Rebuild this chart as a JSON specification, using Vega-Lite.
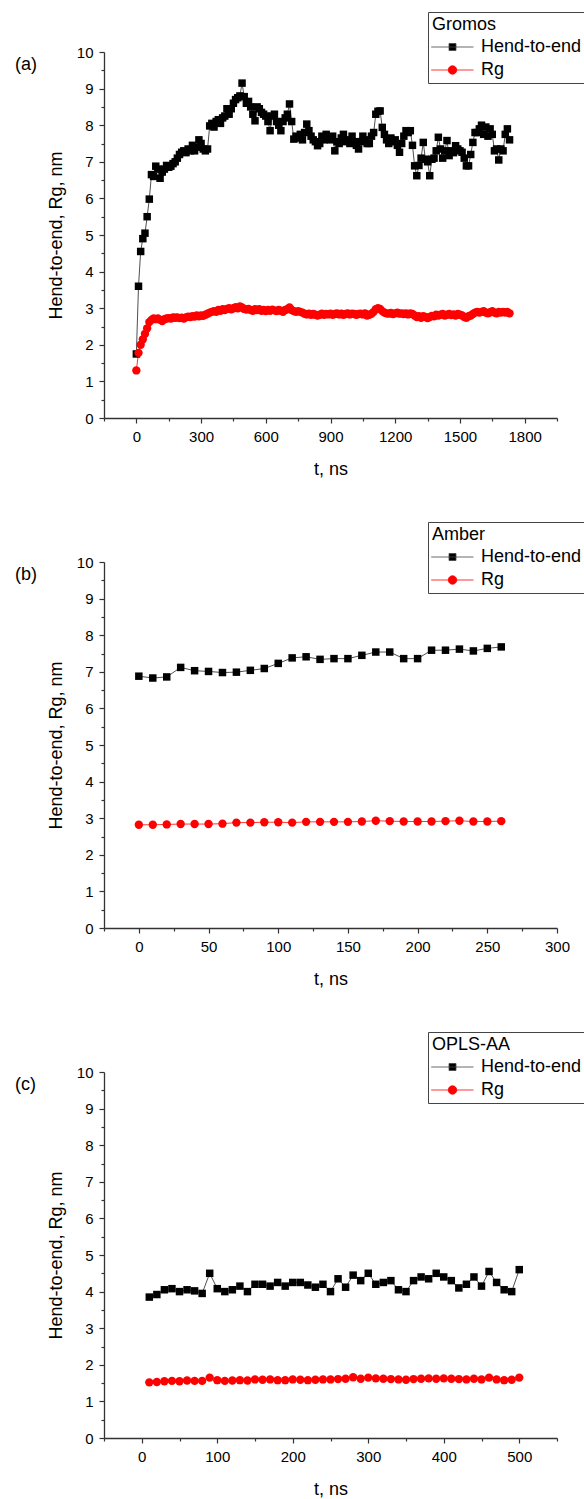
{
"$schema":"https://vega.github.io/schema/vega-lite/v6.json",
"background":"white",
"padding":{"left":15,"top":11,"right":0,"bottom":0},
"spacing":43,
"config":{"view":{"stroke":null},"font":"Liberation Sans",
"axis":{"grid":false,"domainColor":"#333333","domainWidth":1.3,"tickColor":"#333333","tickWidth":1.2,"labelFont":"Liberation Sans","labelFontSize":15,"labelColor":"#000000","labelPadding":6,"labelOverlap":false,"labelBound":false,"labelFlush":false,"titleFont":"Liberation Sans","titleFontSize":18,"titleFontWeight":"normal","titleColor":"#000000"},
"axisY":{"titlePadding":11},"axisX":{"titlePadding":16},
"legend":{"orient":"none","legendX":324,"legendY":-40,"strokeColor":"#444444","fillColor":"#ffffff","padding":4,"titleFontSize":18,"titleFontWeight":"normal","titleColor":"#000000","titleFont":"Liberation Sans","titlePadding":4,"labelFontSize":18,"labelFont":"Liberation Sans","labelColor":"#000000","labelOffset":31,"symbolSize":100,"rowPadding":5,"symbolStrokeWidth":0.8,"symbolFillColor":"#000000","symbolStrokeColor":"#444444","symbolOpacity":1},
"title":{"font":"Liberation Sans","fontSize":18,"fontWeight":"normal","color":"#000000"}},
"datasets":{
"gromos":[
{"t":0,"Hend-to-end":1.75,"Rg":1.3},{"t":10,"Hend-to-end":3.6,"Rg":1.78},{"t":20,"Hend-to-end":4.55,"Rg":2.0},{"t":30,"Hend-to-end":4.9,"Rg":2.15},{"t":40,"Hend-to-end":5.05,"Rg":2.3},{"t":50,"Hend-to-end":5.5,"Rg":2.45},{"t":60,"Hend-to-end":5.98,"Rg":2.62},{"t":70,"Hend-to-end":6.65,"Rg":2.68},{"t":80,"Hend-to-end":6.6,"Rg":2.72},{"t":90,"Hend-to-end":6.88,"Rg":2.7},
{"t":100,"Hend-to-end":6.8,"Rg":2.72},{"t":110,"Hend-to-end":6.55,"Rg":2.68},{"t":120,"Hend-to-end":6.72,"Rg":2.65},{"t":130,"Hend-to-end":6.8,"Rg":2.7},{"t":140,"Hend-to-end":6.9,"Rg":2.72},{"t":150,"Hend-to-end":6.85,"Rg":2.73},{"t":160,"Hend-to-end":6.88,"Rg":2.72},{"t":170,"Hend-to-end":6.95,"Rg":2.75},{"t":180,"Hend-to-end":7.0,"Rg":2.74},{"t":190,"Hend-to-end":7.1,"Rg":2.75},
{"t":200,"Hend-to-end":7.2,"Rg":2.73},{"t":210,"Hend-to-end":7.26,"Rg":2.74},{"t":220,"Hend-to-end":7.3,"Rg":2.72},{"t":230,"Hend-to-end":7.25,"Rg":2.75},{"t":240,"Hend-to-end":7.35,"Rg":2.77},{"t":250,"Hend-to-end":7.3,"Rg":2.76},{"t":260,"Hend-to-end":7.45,"Rg":2.78},{"t":270,"Hend-to-end":7.3,"Rg":2.77},{"t":280,"Hend-to-end":7.4,"Rg":2.8},{"t":290,"Hend-to-end":7.6,"Rg":2.78},
{"t":300,"Hend-to-end":7.5,"Rg":2.8},{"t":310,"Hend-to-end":7.35,"Rg":2.79},{"t":320,"Hend-to-end":7.3,"Rg":2.82},{"t":330,"Hend-to-end":7.35,"Rg":2.85},{"t":340,"Hend-to-end":7.98,"Rg":2.88},{"t":350,"Hend-to-end":8.05,"Rg":2.9},{"t":360,"Hend-to-end":7.95,"Rg":2.92},{"t":370,"Hend-to-end":8.1,"Rg":2.9},{"t":380,"Hend-to-end":8.15,"Rg":2.95},{"t":390,"Hend-to-end":8.05,"Rg":2.93},
{"t":400,"Hend-to-end":8.2,"Rg":2.97},{"t":410,"Hend-to-end":8.25,"Rg":2.95},{"t":420,"Hend-to-end":8.45,"Rg":2.98},{"t":430,"Hend-to-end":8.3,"Rg":3.0},{"t":440,"Hend-to-end":8.45,"Rg":2.97},{"t":450,"Hend-to-end":8.6,"Rg":3.0},{"t":460,"Hend-to-end":8.7,"Rg":3.03},{"t":470,"Hend-to-end":8.75,"Rg":3.0},{"t":480,"Hend-to-end":8.8,"Rg":3.05},{"t":490,"Hend-to-end":9.15,"Rg":3.02},
{"t":500,"Hend-to-end":8.78,"Rg":2.98},{"t":510,"Hend-to-end":8.6,"Rg":2.96},{"t":520,"Hend-to-end":8.65,"Rg":2.98},{"t":530,"Hend-to-end":8.5,"Rg":2.95},{"t":540,"Hend-to-end":8.3,"Rg":2.93},{"t":550,"Hend-to-end":8.12,"Rg":2.97},{"t":560,"Hend-to-end":8.5,"Rg":2.95},{"t":570,"Hend-to-end":8.45,"Rg":2.97},{"t":580,"Hend-to-end":8.35,"Rg":2.93},{"t":590,"Hend-to-end":8.3,"Rg":2.95},
{"t":600,"Hend-to-end":8.25,"Rg":2.92},{"t":610,"Hend-to-end":8.1,"Rg":2.95},{"t":620,"Hend-to-end":7.85,"Rg":2.93},{"t":630,"Hend-to-end":8.25,"Rg":2.96},{"t":640,"Hend-to-end":8.3,"Rg":2.94},{"t":650,"Hend-to-end":8.1,"Rg":2.92},{"t":660,"Hend-to-end":8.0,"Rg":2.95},{"t":670,"Hend-to-end":7.85,"Rg":2.93},{"t":680,"Hend-to-end":8.1,"Rg":2.9},{"t":690,"Hend-to-end":8.2,"Rg":2.95},
{"t":700,"Hend-to-end":8.3,"Rg":2.97},{"t":710,"Hend-to-end":8.58,"Rg":3.02},{"t":720,"Hend-to-end":8.1,"Rg":2.95},{"t":730,"Hend-to-end":7.62,"Rg":2.92},{"t":740,"Hend-to-end":7.7,"Rg":2.9},{"t":750,"Hend-to-end":7.65,"Rg":2.92},{"t":760,"Hend-to-end":7.75,"Rg":2.9},{"t":770,"Hend-to-end":7.6,"Rg":2.88},{"t":780,"Hend-to-end":7.8,"Rg":2.85},{"t":790,"Hend-to-end":8.03,"Rg":2.83},
{"t":800,"Hend-to-end":7.85,"Rg":2.85},{"t":810,"Hend-to-end":7.7,"Rg":2.82},{"t":820,"Hend-to-end":7.6,"Rg":2.84},{"t":830,"Hend-to-end":7.55,"Rg":2.82},{"t":840,"Hend-to-end":7.44,"Rg":2.8},{"t":850,"Hend-to-end":7.5,"Rg":2.82},{"t":860,"Hend-to-end":7.7,"Rg":2.85},{"t":870,"Hend-to-end":7.6,"Rg":2.82},{"t":880,"Hend-to-end":7.75,"Rg":2.84},{"t":890,"Hend-to-end":7.65,"Rg":2.83},
{"t":900,"Hend-to-end":7.6,"Rg":2.85},{"t":910,"Hend-to-end":7.7,"Rg":2.82},{"t":920,"Hend-to-end":7.3,"Rg":2.84},{"t":930,"Hend-to-end":7.55,"Rg":2.86},{"t":940,"Hend-to-end":7.5,"Rg":2.83},{"t":950,"Hend-to-end":7.65,"Rg":2.85},{"t":960,"Hend-to-end":7.75,"Rg":2.82},{"t":970,"Hend-to-end":7.55,"Rg":2.84},{"t":980,"Hend-to-end":7.6,"Rg":2.86},{"t":990,"Hend-to-end":7.5,"Rg":2.83},
{"t":1000,"Hend-to-end":7.7,"Rg":2.85},{"t":1010,"Hend-to-end":7.55,"Rg":2.84},{"t":1020,"Hend-to-end":7.45,"Rg":2.82},{"t":1030,"Hend-to-end":7.35,"Rg":2.84},{"t":1040,"Hend-to-end":7.55,"Rg":2.85},{"t":1050,"Hend-to-end":7.7,"Rg":2.83},{"t":1060,"Hend-to-end":7.6,"Rg":2.86},{"t":1070,"Hend-to-end":7.5,"Rg":2.8},{"t":1080,"Hend-to-end":7.5,"Rg":2.82},{"t":1090,"Hend-to-end":7.7,"Rg":2.85},
{"t":1100,"Hend-to-end":7.8,"Rg":2.9},{"t":1110,"Hend-to-end":8.3,"Rg":2.97},{"t":1120,"Hend-to-end":8.38,"Rg":3.0},{"t":1130,"Hend-to-end":8.39,"Rg":2.98},{"t":1140,"Hend-to-end":7.94,"Rg":2.92},{"t":1150,"Hend-to-end":7.75,"Rg":2.88},{"t":1160,"Hend-to-end":7.6,"Rg":2.86},{"t":1170,"Hend-to-end":7.5,"Rg":2.85},{"t":1180,"Hend-to-end":7.65,"Rg":2.87},{"t":1190,"Hend-to-end":7.55,"Rg":2.84},
{"t":1200,"Hend-to-end":7.6,"Rg":2.86},{"t":1210,"Hend-to-end":7.45,"Rg":2.88},{"t":1220,"Hend-to-end":7.26,"Rg":2.85},{"t":1230,"Hend-to-end":7.5,"Rg":2.86},{"t":1240,"Hend-to-end":7.7,"Rg":2.84},{"t":1250,"Hend-to-end":7.85,"Rg":2.86},{"t":1260,"Hend-to-end":7.8,"Rg":2.83},{"t":1270,"Hend-to-end":7.85,"Rg":2.86},{"t":1280,"Hend-to-end":7.45,"Rg":2.84},{"t":1290,"Hend-to-end":6.89,"Rg":2.8},
{"t":1300,"Hend-to-end":6.62,"Rg":2.76},{"t":1310,"Hend-to-end":6.9,"Rg":2.78},{"t":1320,"Hend-to-end":7.1,"Rg":2.74},{"t":1330,"Hend-to-end":7.53,"Rg":2.78},{"t":1340,"Hend-to-end":7.07,"Rg":2.76},{"t":1350,"Hend-to-end":7.0,"Rg":2.73},{"t":1360,"Hend-to-end":6.62,"Rg":2.76},{"t":1370,"Hend-to-end":7.07,"Rg":2.79},{"t":1380,"Hend-to-end":7.1,"Rg":2.78},{"t":1390,"Hend-to-end":7.3,"Rg":2.82},
{"t":1400,"Hend-to-end":7.67,"Rg":2.8},{"t":1410,"Hend-to-end":7.35,"Rg":2.82},{"t":1420,"Hend-to-end":7.1,"Rg":2.84},{"t":1430,"Hend-to-end":7.3,"Rg":2.8},{"t":1440,"Hend-to-end":7.58,"Rg":2.82},{"t":1450,"Hend-to-end":7.17,"Rg":2.84},{"t":1460,"Hend-to-end":7.3,"Rg":2.81},{"t":1470,"Hend-to-end":7.25,"Rg":2.83},{"t":1480,"Hend-to-end":7.44,"Rg":2.8},{"t":1490,"Hend-to-end":7.35,"Rg":2.84},
{"t":1500,"Hend-to-end":7.3,"Rg":2.82},{"t":1510,"Hend-to-end":7.26,"Rg":2.8},{"t":1520,"Hend-to-end":7.1,"Rg":2.76},{"t":1530,"Hend-to-end":6.89,"Rg":2.74},{"t":1540,"Hend-to-end":6.89,"Rg":2.78},{"t":1550,"Hend-to-end":7.2,"Rg":2.8},{"t":1560,"Hend-to-end":7.53,"Rg":2.84},{"t":1570,"Hend-to-end":7.8,"Rg":2.88},{"t":1580,"Hend-to-end":7.8,"Rg":2.9},{"t":1590,"Hend-to-end":7.9,"Rg":2.88},
{"t":1600,"Hend-to-end":8.0,"Rg":2.9},{"t":1610,"Hend-to-end":7.75,"Rg":2.92},{"t":1620,"Hend-to-end":7.95,"Rg":2.88},{"t":1630,"Hend-to-end":7.7,"Rg":2.86},{"t":1640,"Hend-to-end":7.9,"Rg":2.89},{"t":1650,"Hend-to-end":7.75,"Rg":2.92},{"t":1660,"Hend-to-end":7.3,"Rg":2.88},{"t":1670,"Hend-to-end":7.35,"Rg":2.86},{"t":1680,"Hend-to-end":7.05,"Rg":2.9},{"t":1690,"Hend-to-end":7.35,"Rg":2.88},
{"t":1700,"Hend-to-end":7.3,"Rg":2.9},{"t":1710,"Hend-to-end":7.75,"Rg":2.88},{"t":1720,"Hend-to-end":7.9,"Rg":2.9},{"t":1730,"Hend-to-end":7.6,"Rg":2.86}
],
"amber":[
{"t":0,"Hend-to-end":6.88,"Rg":2.82},{"t":10,"Hend-to-end":6.83,"Rg":2.82},{"t":20,"Hend-to-end":6.86,"Rg":2.83},{"t":30,"Hend-to-end":7.12,"Rg":2.84},{"t":40,"Hend-to-end":7.03,"Rg":2.84},{"t":50,"Hend-to-end":7.01,"Rg":2.84},{"t":60,"Hend-to-end":6.98,"Rg":2.85},{"t":70,"Hend-to-end":6.99,"Rg":2.88},{"t":80,"Hend-to-end":7.04,"Rg":2.88},{"t":90,"Hend-to-end":7.09,"Rg":2.89},
{"t":100,"Hend-to-end":7.23,"Rg":2.89},{"t":110,"Hend-to-end":7.38,"Rg":2.88},{"t":120,"Hend-to-end":7.41,"Rg":2.9},{"t":130,"Hend-to-end":7.34,"Rg":2.9},{"t":140,"Hend-to-end":7.36,"Rg":2.9},{"t":150,"Hend-to-end":7.36,"Rg":2.9},{"t":160,"Hend-to-end":7.45,"Rg":2.91},{"t":170,"Hend-to-end":7.54,"Rg":2.93},{"t":180,"Hend-to-end":7.54,"Rg":2.92},{"t":190,"Hend-to-end":7.36,"Rg":2.91},
{"t":200,"Hend-to-end":7.36,"Rg":2.91},{"t":210,"Hend-to-end":7.59,"Rg":2.91},{"t":220,"Hend-to-end":7.59,"Rg":2.92},{"t":230,"Hend-to-end":7.62,"Rg":2.93},{"t":240,"Hend-to-end":7.57,"Rg":2.91},{"t":250,"Hend-to-end":7.64,"Rg":2.91},{"t":260,"Hend-to-end":7.68,"Rg":2.92}
],
"opls":[
{"t":10,"Hend-to-end":3.85,"Rg":1.52},{"t":20,"Hend-to-end":3.92,"Rg":1.53},{"t":30,"Hend-to-end":4.05,"Rg":1.55},{"t":40,"Hend-to-end":4.08,"Rg":1.56},{"t":50,"Hend-to-end":4.0,"Rg":1.55},{"t":60,"Hend-to-end":4.05,"Rg":1.57},{"t":70,"Hend-to-end":4.02,"Rg":1.56},{"t":80,"Hend-to-end":3.95,"Rg":1.56},{"t":90,"Hend-to-end":4.5,"Rg":1.65},{"t":100,"Hend-to-end":4.08,"Rg":1.58},
{"t":110,"Hend-to-end":4.0,"Rg":1.56},{"t":120,"Hend-to-end":4.05,"Rg":1.57},{"t":130,"Hend-to-end":4.15,"Rg":1.58},{"t":140,"Hend-to-end":4.0,"Rg":1.57},{"t":150,"Hend-to-end":4.2,"Rg":1.6},{"t":160,"Hend-to-end":4.2,"Rg":1.59},{"t":170,"Hend-to-end":4.15,"Rg":1.6},{"t":180,"Hend-to-end":4.25,"Rg":1.58},{"t":190,"Hend-to-end":4.15,"Rg":1.58},{"t":200,"Hend-to-end":4.25,"Rg":1.6},
{"t":210,"Hend-to-end":4.25,"Rg":1.59},{"t":220,"Hend-to-end":4.18,"Rg":1.58},{"t":230,"Hend-to-end":4.12,"Rg":1.59},{"t":240,"Hend-to-end":4.2,"Rg":1.6},{"t":250,"Hend-to-end":4.0,"Rg":1.6},{"t":260,"Hend-to-end":4.35,"Rg":1.61},{"t":270,"Hend-to-end":4.12,"Rg":1.62},{"t":280,"Hend-to-end":4.45,"Rg":1.66},{"t":290,"Hend-to-end":4.3,"Rg":1.62},{"t":300,"Hend-to-end":4.5,"Rg":1.65},
{"t":310,"Hend-to-end":4.2,"Rg":1.63},{"t":320,"Hend-to-end":4.25,"Rg":1.62},{"t":330,"Hend-to-end":4.3,"Rg":1.61},{"t":340,"Hend-to-end":4.05,"Rg":1.6},{"t":350,"Hend-to-end":4.0,"Rg":1.59},{"t":360,"Hend-to-end":4.3,"Rg":1.61},{"t":370,"Hend-to-end":4.4,"Rg":1.62},{"t":380,"Hend-to-end":4.35,"Rg":1.63},{"t":390,"Hend-to-end":4.5,"Rg":1.62},{"t":400,"Hend-to-end":4.4,"Rg":1.63},
{"t":410,"Hend-to-end":4.3,"Rg":1.62},{"t":420,"Hend-to-end":4.1,"Rg":1.61},{"t":430,"Hend-to-end":4.2,"Rg":1.6},{"t":440,"Hend-to-end":4.4,"Rg":1.62},{"t":450,"Hend-to-end":4.15,"Rg":1.6},{"t":460,"Hend-to-end":4.55,"Rg":1.65},{"t":470,"Hend-to-end":4.25,"Rg":1.6},{"t":480,"Hend-to-end":4.05,"Rg":1.58},{"t":490,"Hend-to-end":4.0,"Rg":1.59},{"t":500,"Hend-to-end":4.6,"Rg":1.65}
]},
"vconcat":[
{"width":453,"height":366,
"title":{"text":"(a)","anchor":"start","frame":"group","offset":0,"dx":-89,"dy":62},
"data":{"name":"gromos"},
"transform":[{"fold":["Hend-to-end","Rg"],"as":["s","v"]}],
"encoding":{
"x":{"field":"t","type":"quantitative","scale":{"domain":[-150,1950],"nice":false,"zero":false},
"axis":{"title":"t, ns","values":[-150,0,150,300,450,600,750,900,1050,1200,1350,1500,1650,1800,1950],"labelExpr":"datum.value % 300 === 0 ? format(datum.value, 'd') : ''","tickSize":{"expr":"datum.value % 300 === 0 ? 5 : 3"}}},
"y":{"field":"v","type":"quantitative","scale":{"domain":[0,10],"nice":false},
"axis":{"title":"Hend-to-end, Rg, nm","values":[0,0.5,1,1.5,2,2.5,3,3.5,4,4.5,5,5.5,6,6.5,7,7.5,8,8.5,9,9.5,10],"labelExpr":"datum.value % 1 === 0 ? format(datum.value, 'd') : ''","tickSize":{"expr":"datum.value % 1 === 0 ? 5 : 3"}}}},
"layer":[
{"mark":{"type":"line","strokeWidth":0.8},"encoding":{"color":{"field":"s","type":"nominal","scale":{"domain":["Rg","Hend-to-end"],"range":["#ff0000","#222222"]},"legend":null}}},
{"mark":{"type":"point","filled":true,"opacity":1},"encoding":{
"color":{"field":"s","type":"nominal","scale":{"domain":["Rg","Hend-to-end"],"range":["#ff0000","#000000"]},"legend":null},
"shape":{"field":"s","type":"nominal","scale":{"domain":["Rg","Hend-to-end"],"range":["circle","square"]},"legend":null},
"size":{"field":"s","type":"nominal","scale":{"domain":["Rg","Hend-to-end"],"range":[70,56]},"legend":null}}},
{"transform":[{"filter":"false"}],"mark":{"type":"point","filled":true,"opacity":1},"encoding":{
"fill":{"field":"s","type":"nominal","scale":{"domain":["Hend-to-end","Rg"],"range":["#000000","#ff0000"]},"legend":{"title":"Gromos"}},
"stroke":{"field":"s","type":"nominal","scale":{"domain":["Hend-to-end","Rg"],"range":["#444444","#ff0000"]},"legend":{"title":"Gromos"}},
"shape":{"field":"s","type":"nominal","scale":{"domain":["Hend-to-end","Rg"],"range":["M-1.96,0H6.5M1.6,-0.7H3.0V0.7H1.6Z","M-1.96,0H6.5M3.15,0C3.15,0.469,2.769,0.85,2.3,0.85C1.831,0.85,1.45,0.469,1.45,0C1.45,-0.469,1.831,-0.85,2.3,-0.85C2.769,-0.85,3.15,-0.469,3.15,0Z"]},"legend":{"title":"Gromos"}}}}
],
"resolve":{"scale":{"color":"independent","shape":"independent","size":"independent","fill":"independent","stroke":"independent"}}},
{"width":453,"height":366,
"title":{"text":"(b)","anchor":"start","frame":"group","offset":0,"dx":-89,"dy":62},
"data":{"name":"amber"},
"transform":[{"fold":["Hend-to-end","Rg"],"as":["s","v"]}],
"encoding":{
"x":{"field":"t","type":"quantitative","scale":{"domain":[-25,300],"nice":false,"zero":false},
"axis":{"title":"t, ns","values":[-25,0,25,50,75,100,125,150,175,200,225,250,275,300],"labelExpr":"datum.value % 50 === 0 ? format(datum.value, 'd') : ''","tickSize":{"expr":"datum.value % 50 === 0 ? 5 : 3"}}},
"y":{"field":"v","type":"quantitative","scale":{"domain":[0,10],"nice":false},
"axis":{"title":"Hend-to-end, Rg, nm","values":[0,0.5,1,1.5,2,2.5,3,3.5,4,4.5,5,5.5,6,6.5,7,7.5,8,8.5,9,9.5,10],"labelExpr":"datum.value % 1 === 0 ? format(datum.value, 'd') : ''","tickSize":{"expr":"datum.value % 1 === 0 ? 5 : 3"}}}},
"layer":[
{"mark":{"type":"line","strokeWidth":0.8},"encoding":{"color":{"field":"s","type":"nominal","scale":{"domain":["Rg","Hend-to-end"],"range":["#ff0000","#222222"]},"legend":null}}},
{"mark":{"type":"point","filled":true,"opacity":1},"encoding":{
"color":{"field":"s","type":"nominal","scale":{"domain":["Rg","Hend-to-end"],"range":["#ff0000","#000000"]},"legend":null},
"shape":{"field":"s","type":"nominal","scale":{"domain":["Rg","Hend-to-end"],"range":["circle","square"]},"legend":null},
"size":{"field":"s","type":"nominal","scale":{"domain":["Rg","Hend-to-end"],"range":[70,56]},"legend":null}}},
{"transform":[{"filter":"false"}],"mark":{"type":"point","filled":true,"opacity":1},"encoding":{
"fill":{"field":"s","type":"nominal","scale":{"domain":["Hend-to-end","Rg"],"range":["#000000","#ff0000"]},"legend":{"title":"Amber"}},
"stroke":{"field":"s","type":"nominal","scale":{"domain":["Hend-to-end","Rg"],"range":["#444444","#ff0000"]},"legend":{"title":"Amber"}},
"shape":{"field":"s","type":"nominal","scale":{"domain":["Hend-to-end","Rg"],"range":["M-1.96,0H6.5M1.6,-0.7H3.0V0.7H1.6Z","M-1.96,0H6.5M3.15,0C3.15,0.469,2.769,0.85,2.3,0.85C1.831,0.85,1.45,0.469,1.45,0C1.45,-0.469,1.831,-0.85,2.3,-0.85C2.769,-0.85,3.15,-0.469,3.15,0Z"]},"legend":{"title":"Amber"}}}}
],
"resolve":{"scale":{"color":"independent","shape":"independent","size":"independent","fill":"independent","stroke":"independent"}}},
{"width":453,"height":366,
"title":{"text":"(c)","anchor":"start","frame":"group","offset":0,"dx":-89,"dy":62},
"data":{"name":"opls"},
"transform":[{"fold":["Hend-to-end","Rg"],"as":["s","v"]}],
"encoding":{
"x":{"field":"t","type":"quantitative","scale":{"domain":[-50,550],"nice":false,"zero":false},
"axis":{"title":"t, ns","values":[-50,0,50,100,150,200,250,300,350,400,450,500,550],"labelExpr":"datum.value % 100 === 0 ? format(datum.value, 'd') : ''","tickSize":{"expr":"datum.value % 100 === 0 ? 5 : 3"}}},
"y":{"field":"v","type":"quantitative","scale":{"domain":[0,10],"nice":false},
"axis":{"title":"Hend-to-end, Rg, nm","values":[0,0.5,1,1.5,2,2.5,3,3.5,4,4.5,5,5.5,6,6.5,7,7.5,8,8.5,9,9.5,10],"labelExpr":"datum.value % 1 === 0 ? format(datum.value, 'd') : ''","tickSize":{"expr":"datum.value % 1 === 0 ? 5 : 3"}}}},
"layer":[
{"mark":{"type":"line","strokeWidth":0.8},"encoding":{"color":{"field":"s","type":"nominal","scale":{"domain":["Rg","Hend-to-end"],"range":["#ff0000","#222222"]},"legend":null}}},
{"mark":{"type":"point","filled":true,"opacity":1},"encoding":{
"color":{"field":"s","type":"nominal","scale":{"domain":["Rg","Hend-to-end"],"range":["#ff0000","#000000"]},"legend":null},
"shape":{"field":"s","type":"nominal","scale":{"domain":["Rg","Hend-to-end"],"range":["circle","square"]},"legend":null},
"size":{"field":"s","type":"nominal","scale":{"domain":["Rg","Hend-to-end"],"range":[70,56]},"legend":null}}},
{"transform":[{"filter":"false"}],"mark":{"type":"point","filled":true,"opacity":1},"encoding":{
"fill":{"field":"s","type":"nominal","scale":{"domain":["Hend-to-end","Rg"],"range":["#000000","#ff0000"]},"legend":{"title":"OPLS-AA"}},
"stroke":{"field":"s","type":"nominal","scale":{"domain":["Hend-to-end","Rg"],"range":["#444444","#ff0000"]},"legend":{"title":"OPLS-AA"}},
"shape":{"field":"s","type":"nominal","scale":{"domain":["Hend-to-end","Rg"],"range":["M-1.96,0H6.5M1.6,-0.7H3.0V0.7H1.6Z","M-1.96,0H6.5M3.15,0C3.15,0.469,2.769,0.85,2.3,0.85C1.831,0.85,1.45,0.469,1.45,0C1.45,-0.469,1.831,-0.85,2.3,-0.85C2.769,-0.85,3.15,-0.469,3.15,0Z"]},"legend":{"title":"OPLS-AA"}}}}
],
"resolve":{"scale":{"color":"independent","shape":"independent","size":"independent","fill":"independent","stroke":"independent"}}}
],
"resolve":{"scale":{"x":"independent","color":"independent","shape":"independent","size":"independent","stroke":"independent","fill":"independent"},"legend":{"color":"independent","shape":"independent","fill":"independent","stroke":"independent"}}
}
